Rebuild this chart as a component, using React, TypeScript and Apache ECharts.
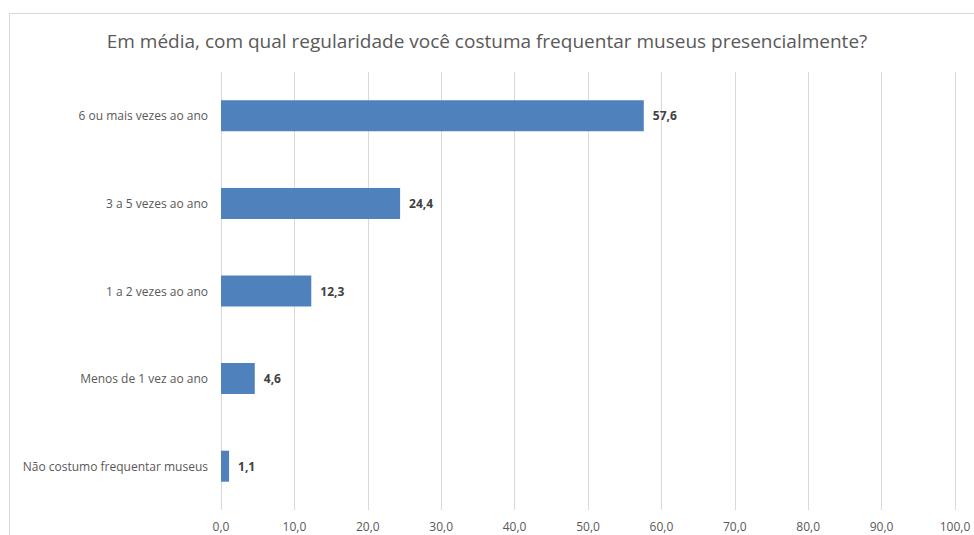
import React, { useEffect, useRef } from "react";
import * as echarts from "echarts";

const titleText = "Em média, com qual regularidade você costuma frequentar museus presencialmente?";
const categories = [
  "Não costumo frequentar museus",
  "Menos de 1 vez ao ano",
  "1 a 2 vezes ao ano",
  "3 a 5 vezes ao ano",
  "6 ou mais vezes ao ano",
];
const values = [1.1, 4.6, 12.3, 24.4, 57.6];
const axisMin = 0;
const axisMax = 100;
const axisStep = 10;

const fmt = (v: number) => v.toFixed(1).replace(".", ",");

export default function App() {
  const ref = useRef<HTMLDivElement>(null);
  useEffect(() => {
    if (!ref.current) return;
    const chart = echarts.init(ref.current, null, { renderer: "svg" });
    const font = "'Open Sans', 'Noto Sans', sans-serif";
    chart.setOption({
      animation: false,
      backgroundColor: "#ffffff",
      textStyle: { fontFamily: font },
      title: {
        text: titleText,
        left: "center",
        top: 26,
        textStyle: { fontSize: 19, fontWeight: "normal", color: "#595959", fontFamily: font },
      },
      graphic: [
        {
          type: "rect",
          shape: { x: 9.5, y: 13.5, width: 1200, height: 800 },
          style: { fill: "none", stroke: "#d9d9d9", lineWidth: 1 },
          silent: true,
        },
      ],
      grid: { left: 221, right: 19, top: 72, bottom: 25, containLabel: false },
      xAxis: {
        type: "value",
        min: axisMin,
        max: axisMax,
        interval: axisStep,
        axisLine: { show: false },
        axisTick: { show: false },
        splitLine: { show: true, lineStyle: { color: "#d9d9d9", width: 1 } },
        axisLabel: {
          color: "#595959",
          fontSize: 12,
          margin: 10,
          fontFamily: font,
          formatter: (v: number) => fmt(v),
        },
      },
      yAxis: {
        type: "category",
        data: categories,
        axisLine: { show: false },
        axisTick: { show: false },
        axisLabel: { color: "#595959", fontSize: 12, margin: 13, fontFamily: font },
      },
      series: [
        {
          type: "bar",
          data: values,
          barWidth: 31,
          itemStyle: { color: "#4F81BD" },
          label: {
            show: true,
            position: "right",
            distance: 9,
            color: "#404040",
            fontWeight: "bold",
            fontSize: 12,
            fontFamily: font,
            formatter: (p: any) => fmt(p.value),
          },
        },
      ],
    });
    return () => chart.dispose();
  }, []);
  return (
    <div
      ref={ref}
      style={{ position: "fixed", left: 0, top: 0, width: 974, height: 535 }}
    />
  );
}
